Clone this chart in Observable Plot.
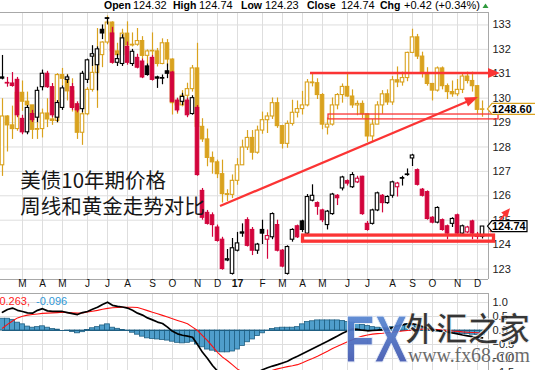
<!DOCTYPE html>
<html><head><meta charset="utf-8">
<script src="https://cdn.jsdelivr.net/npm/d3@7"></script>
<script src="https://cdn.jsdelivr.net/npm/@observablehq/plot@0.6"></script>
<style>
html,body{margin:0;padding:0;background:#fff;}
#wrap{position:relative;width:535px;height:370px;overflow:hidden;background:#fff;}
#wrap svg.plot-part{display:block;max-width:none;}
#overlay{position:absolute;left:0;top:0;pointer-events:none;}
</style></head><body><div id="wrap"></div>
<script>
// ---------------- DATA ----------------
// weekly bars (Monday-dated), Feb 8 2016 .. Dec 11 2017
const firstWeek = new Date(Date.UTC(2016, 1, 8));
const lastWeekEnd = new Date(Date.UTC(2017, 11, 12));

// 10-year T-note (price)
const tOpen = [130.85,130.6,130.6,130.75,
129.15,128.6,129.35,129.2,130.45,131.0,130.45,129.2,129.6,130.75,
130.45,129.75,129.55,130.75,131.7,131.35,132.8,133.25,132.65,131.45,
131.4,132.1,131.4,131.65,131.5,131.3,131.65,130.85,130.8,131.1,
131.05,129.9,129.85,129.9,129.35,129.6,126.2,125.3,125.2,124.7,
124.2,123.35,122.8,123.75,124.5,125.0,124.6,123.75,124.6,124.2,
124.3,124.8,123.75,122.8,124.2,124.75,124.95,124.45,125.8,125.7,
125.4,124.8,125.25,126.0,126.3,126.6,126.35,126.55,126.78,124.85,
124.85,125.4,126.0,125.7,126.0,126.35,126.7,126.85,127.53,127.05,
126.25,126.15,125.1,124.9,125.0,124.75,124.85,125.2,124.45,124.5,
124.95,124.4,124.32];
const tHigh = [131.75,130.85,131.05,130.85,
129.3,129.7,129.5,130.45,131.15,131.1,130.6,129.9,130.5,130.95,
130.6,129.85,131.1,131.6,132.15,132.1,133.0,133.3,132.9,131.8,
132.6,132.3,132.0,131.8,131.6,131.4,131.75,130.9,130.95,131.4,
131.1,130.0,130.2,130.0,130.1,129.7,126.3,125.4,125.3,124.8,
124.3,123.8,124.25,124.5,124.85,125.1,124.7,124.05,125.0,124.6,
125.3,125.0,123.8,123.95,124.65,124.8,125.0,126.05,126.45,125.75,
125.45,125.4,126.1,126.05,126.8,126.65,126.95,126.8,126.8,124.95,
125.45,126.15,126.05,126.0,126.6,126.55,126.8,127.1,127.7,127.1,
126.3,126.2,125.15,125.55,125.05,124.8,125.1,125.25,124.8,124.75,
125.0,124.5,124.74];
const tLow = [130.75,130.45,130.45,129.2,
128.5,128.5,129.0,129.0,130.3,130.4,129.2,129.0,129.5,130.6,
129.5,129.4,129.4,130.6,131.3,130.3,132.4,133.0,131.4,131.3,
131.3,131.35,131.3,131.2,130.8,130.9,130.7,130.4,130.55,130.8,
129.8,129.4,129.7,129.2,129.3,126.8,125.0,124.8,124.3,124.1,
122.95,123.3,122.75,123.7,124.3,123.9,123.55,123.6,124.0,123.4,
124.2,123.7,123.05,122.75,124.1,124.25,124.5,124.35,125.75,125.2,
124.9,124.6,125.2,125.6,126.2,126.4,126.3,126.5,125.2,124.55,
124.8,125.35,125.3,125.65,125.9,125.95,126.4,126.8,127.2,126.4,
125.95,125.0,124.85,124.85,124.55,124.2,124.7,124.4,124.4,124.45,
124.2,124.2,124.23];
const tClose = [130.8,130.6,130.5,129.3,
128.6,129.6,129.1,130.3,131.0,130.45,129.3,129.8,130.4,130.85,
129.6,129.5,131.0,131.55,131.8,132.0,132.65,133.25,131.45,131.6,
132.45,131.45,131.9,131.25,130.85,130.95,130.75,130.8,130.8,131.0,
129.85,129.5,130.05,129.3,130.0,126.85,125.1,124.85,124.8,124.15,
123.0,123.4,123.85,124.05,124.45,123.95,123.75,124.0,124.45,124.35,
125.25,123.75,123.1,123.9,124.6,124.3,124.6,125.95,126.0,125.55,
125.0,125.35,126.05,125.9,126.75,126.5,126.85,126.7,125.25,124.6,
125.4,126.1,125.7,125.95,126.55,126.5,126.7,126.85,127.65,126.45,
126.0,125.05,124.9,125.5,124.6,124.45,125.05,124.45,124.75,124.7,
124.45,124.32,124.74];

// Gold (USD/oz), overlaid on the price panel
const gOpen = [1173,1239,1227,1222,
1271,1259,1254,1221,1222,1243,1235,1233,1295,1290,
1273,1252,1217,1242,1275,1298,1322,1339,1366,1327,
1322,1351,1335,1336,1341,1321,1327,1327,1310,1338,
1316,1257,1254,1267,1276,1304,1225,1208,1183,1177,
1161,1134,1133,1152,1173,1197,1210,1190,1220,1234,
1239,1257,1226,1202,1229,1244,1249,1254,1285,1284,
1268,1224,1228,1254,1268,1279,1266,1254,1256,1242,
1212,1228,1254,1269,1258,1288,1285,1291,1325,1346,
1320,1297,1283,1274,1304,1280,1272,1269,1275,1293,
1287,1280,1248];
const gHigh = [1263,1240,1253,1280,
1287,1272,1254,1243,1249,1263,1271,1297,1304,1296,
1290,1252,1245,1278,1315,1358,1340,1375,1367,1338,
1357,1367,1352,1358,1347,1329,1352,1331,1344,1343,
1317,1263,1274,1284,1308,1338,1236,1222,1191,1180,
1180,1140,1160,1182,1207,1220,1220,1226,1245,1244,
1264,1264,1227,1233,1261,1260,1273,1289,1296,1290,
1270,1237,1264,1270,1283,1296,1275,1260,1260,1243,
1235,1259,1274,1275,1293,1306,1299,1326,1357,1350,
1326,1305,1283,1306,1306,1283,1287,1289,1297,1299,
1299,1281,1260];
const gLow = [1158,1191,1208,1219,
1246,1225,1208,1208,1210,1224,1227,1230,1280,1260,
1245,1208,1200,1240,1272,1250,1305,1336,1310,1310,
1312,1334,1333,1334,1316,1302,1321,1306,1309,1306,
1241,1242,1252,1259,1272,1222,1204,1171,1161,1155,
1122,1124,1128,1146,1173,1193,1180,1188,1215,1216,
1235,1223,1195,1196,1226,1237,1241,1252,1279,1262,
1221,1214,1226,1248,1257,1265,1250,1240,1236,1204,
1205,1228,1242,1254,1254,1278,1280,1286,1324,1316,
1291,1280,1260,1272,1275,1262,1265,1266,1270,1283,
1272,1242,1238];
const gClose = [1239,1227,1222,1271,
1259,1254,1221,1222,1243,1235,1233,1295,1290,1273,
1252,1217,1242,1275,1298,1322,1339,1366,1327,1322,
1351,1335,1336,1341,1321,1327,1327,1310,1338,1316,
1257,1254,1267,1276,1304,1225,1208,1183,1177,1161,
1134,1133,1152,1173,1197,1210,1190,1220,1234,1239,
1257,1226,1202,1229,1244,1249,1254,1285,1284,1268,
1228,1228,1254,1268,1279,1266,1254,1256,1242,1212,
1228,1254,1269,1258,1288,1285,1291,1325,1346,1320,
1297,1283,1274,1304,1280,1272,1269,1275,1293,1287,
1280,1248,1248.6];
// where the gold overlay sits on the price axis (read from the tag) and its overlay scale
const goldLast = 1248.6, goldAxisAt = 129.54, goldPerPoint = 33;

// MACD(12,26,9) of the T-note
const macdLine = [0.65,0.75,0.8,0.72,
0.68,0.63,0.62,0.72,0.78,0.7,0.68,0.68,0.68,0.64,
0.6,0.57,0.64,0.68,0.76,0.83,0.93,1.01,0.9,0.86,
0.84,0.8,0.72,0.62,0.55,0.45,0.38,0.3,0.25,0.12,
-0.03,-0.12,-0.17,-0.2,-0.24,-0.5,-0.78,-1.0,-1.25,-1.45,
-1.7,-1.85,-1.95,-2.0,-1.9,-1.75,-1.6,-1.5,-1.4,-1.33,
-1.27,-1.22,-1.16,-1.1,-1.0,-0.92,-0.83,-0.74,-0.65,-0.56,
-0.47,-0.38,-0.29,-0.2,-0.1,-0.02,0.05,0.04,0.01,-0.01,
0.0,0.01,0.03,0.06,0.1,0.16,0.2,0.24,0.24,0.2,
0.14,0.08,0.03,0.0,-0.03,-0.06,-0.09,-0.12,-0.16,-0.19,
-0.22,-0.24,-0.263];
const macdSignal = [0.08,0.22,0.34,0.45,
0.51,0.55,0.57,0.59,0.61,0.62,0.63,0.64,0.65,0.64,
0.63,0.62,0.63,0.66,0.69,0.72,0.76,0.79,0.81,0.82,
0.83,0.83,0.83,0.82,0.77,0.71,0.65,0.6,0.54,0.48,
0.42,0.36,0.3,0.24,0.12,0.0,-0.18,-0.36,-0.57,-0.78,
-0.95,-1.08,-1.23,-1.38,-1.48,-1.55,-1.58,-1.58,-1.55,-1.5,
-1.42,-1.37,-1.33,-1.29,-1.26,-1.22,-1.15,-1.07,-1.0,-0.92,
-0.83,-0.74,-0.64,-0.56,-0.48,-0.4,-0.33,-0.26,-0.2,-0.16,
-0.13,-0.11,-0.1,-0.08,-0.06,-0.04,-0.02,0.0,0.02,0.04,
0.05,0.05,0.04,0.03,0.02,0.0,-0.02,-0.03,-0.05,-0.06,
-0.07,-0.08,-0.096];
const macdHist = [0.42,0.42,0.38,0.28,
0.22,0.14,0.1,0.12,0.15,0.1,0.05,0.03,0.0,-0.02,
-0.05,-0.1,-0.06,0.02,0.08,0.12,0.18,0.22,0.1,0.06,
0.02,-0.02,-0.08,-0.15,-0.22,-0.28,-0.3,-0.32,-0.34,-0.36,
-0.4,-0.44,-0.46,-0.44,-0.4,-0.5,-0.6,-0.68,-0.72,-0.76,
-0.78,-0.78,-0.75,-0.68,-0.55,-0.42,-0.32,-0.2,-0.1,-0.02,
0.05,0.08,0.1,0.1,0.1,0.12,0.22,0.3,0.33,0.36,
0.36,0.36,0.36,0.36,0.34,0.3,0.28,0.24,0.2,0.16,
0.12,0.1,0.08,0.08,0.12,0.16,0.2,0.22,0.2,0.14,
0.08,0.02,-0.02,-0.04,-0.06,-0.08,-0.1,-0.1,-0.12,-0.13,
-0.15,-0.16,-0.167];

// month ticks (first weekly bar of each month) and labels
const monthTickDates = ["2016-03-07","2016-04-04","2016-05-02","2016-06-06","2016-07-04","2016-08-01",
"2016-09-05","2016-10-03","2016-11-07","2016-12-05","2017-01-02","2017-02-06","2017-03-06","2017-04-03",
"2017-05-01","2017-06-05","2017-07-03","2017-08-07","2017-09-04","2017-10-02","2017-11-06","2017-12-04"];
const monthTickLabels = ["M","A","M","J","J","A","S","O","N","D","17","F","M","A","M","J","J","A","S","O","N","D"];
const priceTicks = [123,124,125,126,127,128,129,130,131,132,133];
const macdTicks = [1.0,0.5,0,-0.5,-1.0,-1.5];

// header values
const header = {open: "124.32", high: "124.74", low: "124.23", close: "124.74", chg: "+0.42 (+0.34%)"};
const macdValues = ["-0.263,", "-0.096"];
const noteLines = ["美债10年期价格", "周线和黄金走势对比"];

// hand-drawn annotations (data units: dates, price)
const annoArrows = [
  {x1: "2017-04-14T05:00Z", y1: 131.01, x2: "2018-01-05T05:00Z", y2: 131.01, w: 2.7, len: 12, hw: 5},
  {x1: "2016-12-09T05:00Z", y1: 125.56, x2: "2017-12-05T10:00Z", y2: 130.03, w: 2.3, len: 13, hw: 5},
  {x1: "2017-12-22T05:00Z", y1: 124.50, x2: "2018-01-19T05:00Z", y2: 125.47, w: 2.0, len: 9, hw: 4}
];
const annoBoxes = [
  {x1: "2017-05-09T10:00Z", x2: "2018-01-02T10:00Z", y1: 129.13, y2: 129.33, w: 1.3},
  {x1: "2017-04-03T17:00Z", x2: "2017-12-27T02:00Z", y1: 124.12, y2: 124.37, w: 3.3}
];

// ---------------- BUILD ----------------
const weeks = d3.utcMonday.range(firstWeek, lastWeekEnd);
const DAY = 864e5;
const xDomain = [new Date(Date.UTC(2016,1,5,5)), new Date(Date.UTC(2017,11,19,9))];
const GOLD = "#d9a21e", RED = "#d2043c", GRID = "#dedede", FRAME = "#a8a8a8", ANNO = "#fb3434";
const FONT = "Liberation Sans, Arial, sans-serif";
const g2y = g => goldAxisAt + (g - goldLast) / goldPerPoint;

const tsy = weeks.map((date, i) => ({date, o: tOpen[i], h: tHigh[i], l: tLow[i], c: tClose[i],
  prev: i ? tClose[i-1] : tClose[i]}));
const gold = weeks.map((date, i) => ({date, o: gOpen[i], h: gHigh[i], l: gLow[i], c: gClose[i]}));
const macdRows = weeks.map((date, i) => ({date, m: macdLine[i], s: macdSignal[i], h: macdHist[i]}));
const months = monthTickDates.map((d, i) => ({date: new Date(d + "T00:00Z"), label: monthTickLabels[i]}));

const half = 2.45 * DAY;
const tColor = d => d.c >= d.prev ? "#000" : RED;
const tFill = d => d.c > d.o ? "#fff" : tColor(d);
const body2 = (o, c, eps) => (Math.abs(c - o) < eps ? o + eps : c);

const yMain = [122.57, 133.51];
const main = Plot.plot({
  width: 535, height: 293,
  marginTop: 12, marginBottom: 14, marginLeft: 0, marginRight: 47,
  x: {type: "utc", domain: xDomain, axis: null},
  y: {domain: yMain, axis: null},
  color: {type: "identity"},
  style: {fontFamily: FONT, background: "#fff"},
  marks: [
    Plot.ruleY(priceTicks, {stroke: GRID}),
    Plot.ruleX(months, {x: "date", stroke: GRID}),
    // gold overlay
    Plot.ruleX(gold, {x: "date", y1: d => g2y(d.l), y2: d => g2y(d.h), stroke: GOLD, strokeWidth: 1.2}),
    Plot.rect(gold, {x1: d => new Date(+d.date - half), x2: d => new Date(+d.date + half),
      y1: d => g2y(d.o), y2: d => g2y(body2(d.o, d.c, 0.7)),
      fill: d => d.c < d.o ? GOLD : "#fff", stroke: GOLD, strokeWidth: 1.1}),
    // T-note candles
    Plot.ruleX(tsy, {x: "date", y1: "l", y2: "h", stroke: tColor, strokeWidth: 1.2}),
    Plot.rect(tsy, {x1: d => new Date(+d.date - half), x2: d => new Date(+d.date + half),
      y1: "o", y2: d => body2(d.o, d.c, 0.025),
      fill: tFill, stroke: tColor, strokeWidth: 1.1}),
    // frame lines
    Plot.ruleY([yMain[1]], {stroke: FRAME}),
    Plot.ruleY([yMain[0]], {stroke: FRAME}),
    Plot.ruleX([xDomain[1]], {stroke: FRAME}),
    // axes labels
    Plot.text(priceTicks, {y: d => d, text: d => String(d), frameAnchor: "right", dx: 4, textAnchor: "start",
      fontSize: 11, fill: "#222"}),
    Plot.text(months.filter(d => d.label !== "17"), {x: "date", text: "label", frameAnchor: "bottom", dy: 7.5,
      fontSize: 10, fill: "#111"}),
    Plot.text(months.filter(d => d.label === "17"), {x: "date", text: "label", frameAnchor: "bottom", dy: 7.5,
      fontSize: 10.5, fontWeight: "bold", fill: "#111"}),
    // Chinese note
    Plot.text([{x: new Date("2016-03-04T00:00Z"), y: 126.57, t: noteLines[0]},
               {x: new Date("2016-03-04T00:00Z"), y: 125.52, t: noteLines[1]}],
      {x: "x", y: "y", text: "t", textAnchor: "start", fontSize: 20.5,
       fontFamily: "Noto Sans CJK SC, sans-serif", fill: "#161616"})
  ]
});
main.classList.add("plot-part");

const macdY = [-1.4286, 1.3214];
const macdPlot = Plot.plot({
  width: 535, height: 77,
  marginTop: 0, marginBottom: 0, marginLeft: 0, marginRight: 47,
  x: {type: "utc", domain: xDomain, axis: null},
  y: {domain: macdY, axis: null},
  style: {fontFamily: FONT, background: "#fff"},
  marks: [
    Plot.ruleY(macdTicks, {stroke: GRID}),
    Plot.ruleX(months, {x: "date", stroke: GRID}),
    Plot.rect(macdRows, {x1: d => new Date(+d.date - 3.5 * DAY), x2: d => new Date(+d.date + 3.5 * DAY),
      y1: 0, y2: "h", fill: "#4f9ecb", stroke: "#1f5f82", strokeWidth: 0.8}),
    Plot.ruleY([0], {x1: weeks[0], x2: weeks[weeks.length - 1], stroke: "#1f5f82"}),
    Plot.line(macdRows, {x: "date", y: "s", stroke: "#ff1010", strokeWidth: 1.1, clip: true}),
    Plot.line(macdRows, {x: "date", y: "m", stroke: "#000", strokeWidth: 1.7, clip: true}),
    Plot.ruleY([macdY[1]], {stroke: FRAME}),
    Plot.ruleX([xDomain[1]], {stroke: FRAME}),
    Plot.text(macdTicks, {y: d => d, text: d => d3.format(".1f")(d), frameAnchor: "right", dx: 4,
      textAnchor: "start", fontSize: 11, fill: "#222"})
  ]
});
macdPlot.classList.add("plot-part");

const wrap = document.getElementById("wrap");
wrap.appendChild(main);
wrap.appendChild(macdPlot);

// ---------- annotations through the plot's scales ----------
const X = main.scale("x"), Y = main.scale("y");
const px = d => X.apply(new Date(d)), py = v => Y.apply(v);
const svg = d3.select(main);

// header
const hdr = svg.append("text").attr("y", 9).attr("font-size", 10.5).attr("fill", "#000")
  .attr("text-anchor", "start").attr("font-family", FONT);
[["Open", 104, true], [header.open, 133, false], ["High", 173, true], [header.high, 199, false],
 ["Low", 241, true], [header.low, 265, false], ["Close", 307, true], [header.close, 341, false],
 ["Chg", 380, true], [header.chg, 404, false]].forEach(([t, x, b]) => {
  hdr.append("tspan").attr("x", x).attr("font-weight", b ? "bold" : "normal")
     .attr("font-size", b ? 10.5 : 11).text(t);
});
svg.append("polygon").attr("points", "482.5,8 488.5,8 485.5,3.5").attr("fill", "#2e9a3c");

const ag = svg.append("g");
annoBoxes.forEach(b => {
  const x1 = px(b.x1), x2 = px(b.x2), ya = py(b.y2), yb = py(b.y1);
  ag.append("rect").attr("x", x1).attr("y", ya).attr("width", x2 - x1).attr("height", yb - ya)
    .attr("fill", "none").attr("stroke", ANNO).attr("stroke-width", b.w);
});
annoArrows.forEach(a => {
  const x0 = px(a.x1), y0 = py(a.y1), x1 = px(a.x2), y1 = py(a.y2);
  const L = Math.hypot(x1 - x0, y1 - y0), ux = (x1 - x0) / L, uy = (y1 - y0) / L;
  const bx = x1 - ux * a.len, by = y1 - uy * a.len;
  ag.append("line").attr("x1", x0).attr("y1", y0).attr("x2", bx + ux * 2).attr("y2", by + uy * 2)
    .attr("stroke", ANNO).attr("stroke-width", a.w);
  ag.append("polygon").attr("points", [[x1, y1], [bx - uy * a.hw, by + ux * a.hw], [bx + uy * a.hw, by - ux * a.hw]].map(p => p.join(",")).join(" "))
    .attr("fill", ANNO);
});

// last-value tags
function tag(yv, text, color, right) {
  const y = py(yv), x0 = 487.5, h = 5.5;
  svg.append("path").attr("d", `M${x0},${y} L${x0 + 4.5},${y - h} L${right},${y - h} L${right},${y + h} L${x0 + 4.5},${y + h} Z`)
    .attr("fill", "#fff").attr("stroke", color).attr("stroke-width", 1.2);
  svg.append("text").attr("x", 492).attr("y", y + 4).attr("font-size", 11).attr("font-weight", "bold")
    .attr("text-anchor", "start").attr("font-family", FONT).attr("fill", "#000").text(text);
}
tag(g2y(goldLast), d3.format(".2f")(goldLast), GOLD, 545);
tag(tClose[tClose.length - 1], d3.format(".2f")(tClose[tClose.length - 1]), "#000", 527);

// MACD value legend (first value runs off the left edge, as in the source)
const ms = d3.select(macdPlot);
ms.append("text").attr("x", 30).attr("y", 12).attr("text-anchor", "end").attr("font-size", 11)
  .attr("font-family", FONT).attr("fill", "#ff1a1a").text(macdValues[0]);
ms.append("text").attr("x", 36).attr("y", 12).attr("text-anchor", "start").attr("font-size", 11)
  .attr("font-family", FONT).attr("fill", "#2f97d6").text(macdValues[1]);

// watermark overlay
const ov = d3.select(wrap).append("svg").attr("id", "overlay").attr("width", 535).attr("height", 370);
const defs = ov.append("defs");
const lg = defs.append("linearGradient").attr("id", "fxg").attr("x1", 0).attr("y1", 0).attr("x2", 0).attr("y2", 1);
lg.append("stop").attr("offset", "0%").attr("stop-color", "#5b93dc");
lg.append("stop").attr("offset", "100%").attr("stop-color", "#3c4aa6");
ov.append("text").attr("x", 344).attr("y", 362).attr("font-size", 66).attr("font-weight", "bold")
  .attr("font-family", FONT).attr("textLength", 64).attr("lengthAdjust", "spacingAndGlyphs")
  .attr("fill", "url(#fxg)").attr("stroke", "#e8eef8").attr("stroke-width", 1).attr("opacity", 0.92).text("FX");
ov.append("text").attr("x", 405).attr("y", 341).attr("font-size", 33).attr("font-weight", "bold")
  .attr("font-family", "Noto Sans CJK SC, sans-serif").attr("textLength", 125).attr("lengthAdjust", "spacingAndGlyphs")
  .attr("fill", "#1c1c1c").attr("stroke", "#fff").attr("stroke-width", 0.8).attr("opacity", 0.88).text("外汇之家");
ov.append("text").attr("x", 408).attr("y", 362).attr("font-size", 21)
  .attr("font-family", "Liberation Serif, DejaVu Serif, serif").attr("textLength", 122).attr("lengthAdjust", "spacingAndGlyphs")
  .attr("fill", "#5c5c5c").attr("stroke", "#fff").attr("stroke-width", 0.8).attr("paint-order", "stroke")
  .attr("opacity", 0.9).text("www.fx68.com");
</script>
</body></html>
